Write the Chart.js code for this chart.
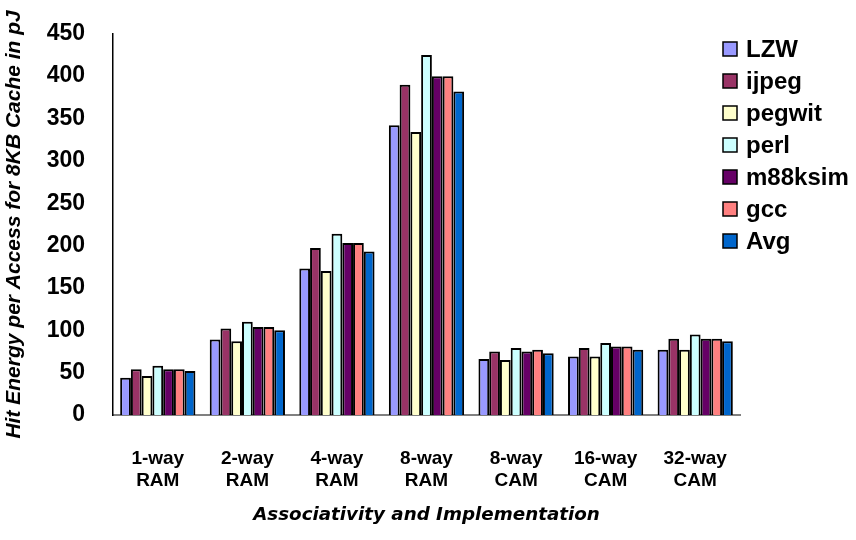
<!DOCTYPE html>
<html>
<head>
<meta charset="utf-8">
<script src="https://cdn.jsdelivr.net/npm/chart.js@4.4.1/dist/chart.umd.min.js"></script>
<style>
  html, body { margin: 0; padding: 0; background: #ffffff; }
  #wrap { width: 856px; height: 540px; }
</style>
</head>
<body>
<div id="wrap"><canvas id="grafEnergia" width="856" height="540"></canvas></div>
<script>
const categorias = [
    ['1-way', 'RAM'], ['2-way', 'RAM'], ['4-way', 'RAM'], ['8-way', 'RAM'],
    ['8-way', 'CAM'], ['16-way', 'CAM'], ['32-way', 'CAM']
];

const lzw     = [44, 89, 173, 342, 66, 69, 77];
const ijpeg   = [54, 102, 197, 390, 75, 79, 90];
const pegwit  = [46, 87, 170, 334, 65, 69, 77];
const perl    = [58, 110, 214, 425, 79, 85, 95];
const m88ksim = [54, 104, 203, 400, 75, 81, 90];
const gcc     = [54, 104, 203, 400, 77, 81, 90];
const avg     = [52, 100, 193, 382, 73, 77, 87];

const ticksY = [0, 50, 100, 150, 200, 250, 300, 350, 400, 450];

const series = [
    { label: 'LZW', data: lzw, color: '#9999FF' },
    { label: 'ijpeg', data: ijpeg, color: '#993366' },
    { label: 'pegwit', data: pegwit, color: '#FFFFCC' },
    { label: 'perl', data: perl, color: '#CCFFFF' },
    { label: 'm88ksim', data: m88ksim, color: '#660066' },
    { label: 'gcc', data: gcc, color: '#FF8080' },
    { label: 'Avg', data: avg, color: '#0066CC' }
];

// leyenda dibujada a mano, se mete dentro del area del grafico como en el original
const leyenda = {
    id: 'leyenda',
    afterDraw(chart) {
        const ctx = chart.ctx;
        ctx.save();
        ctx.font = 'bold 24px "Liberation Sans", Arial, sans-serif';
        ctx.textBaseline = 'middle';
        chart.data.datasets.forEach(function (ds, i) {
            const y = 49 + i * 32;
            ctx.fillStyle = ds.backgroundColor;
            ctx.strokeStyle = '#000000';
            ctx.lineWidth = 1.5;
            ctx.fillRect(723, y - 7, 14, 14);
            ctx.strokeRect(723, y - 7, 14, 14);
            ctx.fillStyle = '#000000';
            ctx.fillText(ds.label, 746, y + 1);
        });
        ctx.restore();
    }
};

const config = {
    type: 'bar',
    data: {
        labels: categorias,
        datasets: series.map(function (s) {
            return {
                label: s.label,
                data: s.data,
                backgroundColor: s.color,
                borderColor: '#000000',
                borderWidth: 2,
                barPercentage: 1.0,
                categoryPercentage: 0.84
            };
        })
    },
    options: {
        responsive: false,
        animation: false,
        layout: { padding: { top: 33, right: 116, bottom: 0, left: 0 } },
        plugins: {
            legend: { display: false },
            tooltip: { enabled: false }
        },
        scales: {
            x: {
                grid: { display: false },
                border: { display: true, color: '#808080', width: 2 },
                ticks: {
                    color: '#000000',
                    padding: 24,
                    font: { family: '"Liberation Sans", Arial, sans-serif', size: 19, weight: 'bold', lineHeight: 1.2 },
                    maxRotation: 0
                },
                title: {
                    display: true,
                    text: 'Associativity and Implementation',
                    color: '#000000',
                    padding: { top: 0, bottom: 14 },
                    font: { family: '"DejaVu Sans", Verdana, sans-serif', size: 18.3, weight: 'bold', style: 'italic' }
                },
                afterFit(scale) { scale.height = 125; }
            },
            y: {
                min: 0,
                max: 450,
                grid: { display: false },
                border: { display: true, color: '#000000', width: 1.5 },
                afterBuildTicks(scale) {
                    scale.ticks = ticksY.map(function (v) { return { value: v }; });
                },
                ticks: {
                    color: '#000000',
                    padding: 20,
                    font: { family: '"Liberation Sans", Arial, sans-serif', size: 23, weight: 'bold' }
                },
                title: {
                    display: true,
                    text: 'Hit Energy per Access for 8KB Cache in pJ',
                    color: '#000000',
                    padding: { top: 2, bottom: 0 },
                    font: { family: '"Liberation Sans", Arial, sans-serif', size: 21, weight: 'bold', style: 'italic' }
                },
                afterFit(scale) { scale.width = 113; }
            }
        }
    },
    plugins: [leyenda]
};

const ctx = document.getElementById('grafEnergia').getContext('2d');
window.graficaEnergia = new Chart(ctx, config);
</script>
</body>
</html>
